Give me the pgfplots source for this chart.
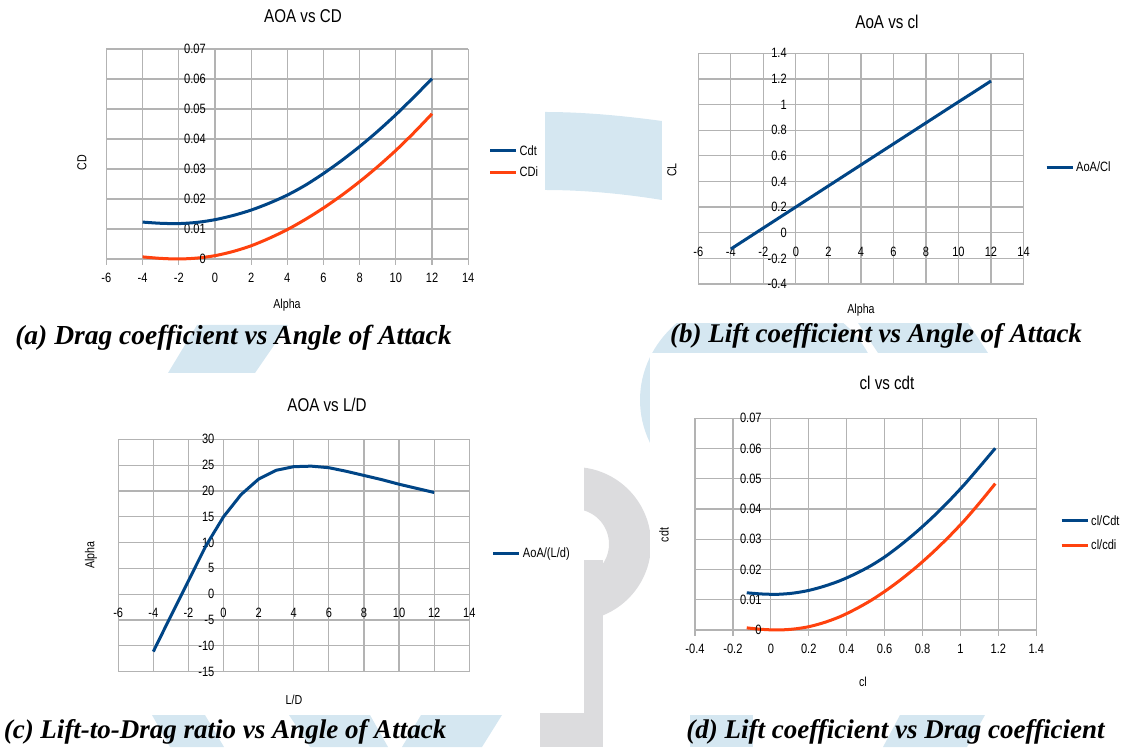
\documentclass[border=0pt]{standalone}
\usepackage{graphicx}
\usepackage{pgfplots}
\pgfplotsset{compat=1.18}
\usepackage{pgfplotstable}
\usepackage{fontspec}
\setmainfont{Liberation Sans}
\newfontfamily\capfont{Liberation Serif}
\definecolor{lblue}{HTML}{004586}
\definecolor{lorange}{HTML}{FF420E}
\definecolor{lgrid}{HTML}{B3B3B3}
\definecolor{wblue}{HTML}{D5E7F1}
\definecolor{wgray}{HTML}{DCDCDE}
\newcommand\sq[1]{\scalebox{0.82}[1]{#1}}

\pgfplotstableread{
a   cdt    cdi    cl     ld
-4  0.0123 0.0007 -0.127 -11.1
-3  0.0119 0.0002 -0.045 -4.2
-2  0.0118 0.0000 0.037  2.6
-1  0.0122 0.0003 0.119  9.4
0   0.0131 0.0011 0.201  15.0
1   0.0145 0.0025 0.283  19.3
2   0.0163 0.0044 0.365  22.3
3   0.0186 0.0069 0.447  24.0
4   0.0213 0.0098 0.529  24.7
5   0.0246 0.0132 0.611  24.8
6   0.0285 0.0170 0.693  24.5
7   0.0328 0.0212 0.775  23.8
8   0.0375 0.0258 0.857  23.0
9   0.0426 0.0308 0.939  22.2
10  0.0481 0.0362 1.021  21.3
11  0.0540 0.0421 1.102  20.5
12  0.0601 0.0484 1.184  19.7
}\aerodata

\tikzset{zx/.style={anchor=north, yshift=-14pt, inner sep=0pt, font=\fontsize{13.5}{15}\selectfont},
         zy/.style={anchor=east, xshift=-9pt, inner sep=0pt, font=\fontsize{13.5}{15}\selectfont}}

\pgfplotsset{
  lo/.style={
    scale only axis,
    axis lines=middle,
    axis line style={draw=lgrid, line width=1.2pt, -},
    grid=major,
    major grid style={draw=lgrid, line width=1.2pt},
    every tick/.style={draw=lgrid, line width=1.2pt},
    tick align=outside,
    major tick length=6pt,
    scaled ticks=false,
    tick label style={font=\fontsize{13.5}{15}\selectfont, inner sep=0pt},
    xticklabel style={anchor=north, yshift=-8pt},
    yticklabel style={anchor=east, xshift=-3pt},
    legend style={draw=none, fill=none, anchor=west, inner sep=0pt,
      font=\fontsize{13.5}{15}\selectfont},
    legend cell align=left,
    legend image code/.code={\draw[#1, line width=3pt] (0pt,0pt) -- (26pt,0pt);},
    clip=false,
  },
  alphax/.style={xtick={-6,-4,-2,0,2,4,6,8,10,12,14},
    xticklabels={\sq{-6},\sq{-4},\sq{-2},\sq{0},\sq{2},\sq{4},\sq{6},\sq{8},\sq{10},\sq{12},\sq{14}}},
  cdy/.style={ytick={0,0.01,0.02,0.03,0.04,0.05,0.06,0.07},
    yticklabels={\sq{0},\sq{0.01},\sq{0.02},\sq{0.03},\sq{0.04},\sq{0.05},\sq{0.06},\sq{0.07}}},
}

\begin{document}
\begin{tikzpicture}
\useasboundingbox (0,0) rectangle (1126pt,747pt);
\begin{scope}[x=1pt,y=-1pt,yshift=747pt]
  % watermark
  \fill[wblue] (545,112) .. controls (585,112) and (625,116) .. (662,121) -- (662,200) .. controls (625,194) and (585,190) .. (545,190) -- cycle;
  \fill[wblue] (197,325) -- (288,325) -- (255,373) -- (168,373) -- cycle;
  \fill[wblue] (760,400) ellipse [x radius=120, y radius=107];
  \fill[wblue] (858,323) -- (968,323) -- (988,353) -- (878,353) -- cycle;
  \fill[wblue] (152,715) -- (205,715) -- (224,747) -- (170,747) -- cycle;
  \fill[wblue] (289,715) -- (370,715) -- (388,747) -- (310,747) -- cycle;
  \fill[wblue] (421,715) -- (502,715) -- (482,747) -- (402,747) -- cycle;
  \fill[wblue] (690,715) rectangle (753,747);
  \fill[wblue] (900,715) -- (985,715) -- (967,747) -- (883,747) -- cycle;
  \fill[wgray, even odd rule] (574,544) circle (77) (574,544) circle (35);
  \fill[wgray] (584,560) rectangle (603,747);
  \fill[wgray] (540,713) rectangle (603,747);
  % chart images (white)
  \fill[white] (0,0) rectangle (545,323);
  \fill[white] (662,0) rectangle (1126,323);
  \fill[white] (0,373) rectangle (584,713);
  \fill[white] (650,353) rectangle (1126,713);
\end{scope}

% (a)
\begin{axis}[lo, at={(106.4pt,698pt)}, anchor=north west, width=361.8pt, height=210pt,
  xmin=-6, xmax=14, ymin=0, ymax=0.07, alphax, cdy,
  legend style={at={(axis description cs:1.056,0.464)}, row sep=6pt}]
\addplot[lblue, line width=3pt, smooth] table[x=a, y=cdt]{\aerodata};
\addlegendentry{\sq{Cdt}}
\addplot[lorange, line width=3pt, smooth] table[x=a, y=cdi]{\aerodata};
\addlegendentry{\sq{CDi}}
\node[zx] at (axis cs:0,0) {\sq{0}};
\node[zy] at (axis cs:0,0) {\sq{0}};
\end{axis}

% (b)
\begin{axis}[lo, at={(698.3pt,693.7pt)}, anchor=north west, width=325.2pt, height=230.7pt,
  xmin=-6, xmax=14, ymin=-0.4, ymax=1.4, alphax,
  ytick={-0.4,-0.2,0,0.2,0.4,0.6,0.8,1,1.2,1.4},
  yticklabels={\sq{-0.4},\sq{-0.2},\sq{0},\sq{0.2},\sq{0.4},\sq{0.6},\sq{0.8},\sq{1},\sq{1.2},\sq{1.4}},
  legend style={at={(axis description cs:1.066,0.507)}}]
\addplot[lblue, line width=3pt] table[x=a, y=cl]{\aerodata};
\addlegendentry{\sq{AoA/Cl}}
\node[zx] at (axis cs:0,0) {\sq{0}};
\node[zy] at (axis cs:0,0) {\sq{0}};
\end{axis}

% (c)
\begin{axis}[lo, at={(118.2pt,307.7pt)}, anchor=north west, width=351.1pt, height=232.4pt,
  xmin=-6, xmax=14, ymin=-15, ymax=30, alphax,
  ytick={-15,-10,-5,0,5,10,15,20,25,30},
  yticklabels={\sq{-15},\sq{-10},\sq{-5},\sq{0},\sq{5},\sq{10},\sq{15},\sq{20},\sq{25},\sq{30}},
  legend style={at={(axis description cs:1.064,0.5095)}}]
\addplot[lblue, line width=3pt] table[x=a, y=ld]{\aerodata};
\addlegendentry{\sq{AoA/(L/d)}}
\node[zx] at (axis cs:0,0) {\sq{0}};
\node[zy] at (axis cs:0,0) {\sq{0}};
\end{axis}

% (d)
\begin{axis}[lo, at={(695pt,328.7pt)}, anchor=north west, width=341.2pt, height=211.7pt,
  xmin=-0.4, xmax=1.4, ymin=0, ymax=0.07, cdy,
  xtick={-0.4,-0.2,0,0.2,0.4,0.6,0.8,1,1.2,1.4},
  xticklabels={\sq{-0.4},\sq{-0.2},\sq{0},\sq{0.2},\sq{0.4},\sq{0.6},\sq{0.8},\sq{1},\sq{1.2},\sq{1.4}},
  legend style={at={(axis description cs:1.0698,0.458)}, row sep=9pt}]
\addplot[lblue, line width=3pt, smooth] table[x=cl, y=cdt]{\aerodata};
\addlegendentry{\sq{cl/Cdt}}
\addplot[lorange, line width=3pt, smooth] table[x=cl, y=cdi]{\aerodata};
\addlegendentry{\sq{cl/cdi}}
\node[zx] at (axis cs:0,0) {\sq{0}};
\node[zy] at (axis cs:0,0) {\sq{0}};
\end{axis}

\begin{scope}[x=1pt,y=-1pt,yshift=747pt]
  \tikzset{ttl/.style={font=\fontsize{18.5}{20}\selectfont, inner sep=0pt},
           lbl/.style={font=\fontsize{13}{15}\selectfont, inner sep=0pt},
           capt/.style={font=\capfont\bfseries\itshape\fontsize{27}{30}\selectfont, inner sep=0pt, anchor=base}}
  \node[ttl] at (303,16) {\sq{AOA vs CD}};
  \node[ttl] at (887,22) {\sq{AoA vs cl}};
  \node[ttl] at (327,405) {\sq{AOA vs L/D}};
  \node[ttl] at (887,383) {\sq{cl vs cdt}};
  \node[lbl] at (287,305) {\sq{Alpha}};
  \node[lbl] at (861,310) {\sq{Alpha}};
  \node[lbl] at (294,700) {\sq{L/D}};
  \node[lbl] at (863,682) {\sq{cl}};
  \node[lbl, rotate=90] at (82,163) {\sq{CD}};
  \node[lbl, rotate=90] at (672,170) {\sq{CL}};
  \node[lbl, rotate=90] at (91,555) {\sq{Alpha}};
  \node[lbl, rotate=90] at (664,535) {\sq{cdt}};
  \node[capt, font=\capfont\bfseries\itshape\fontsize{27.5}{30}\selectfont] at (233.5,345) {(a) Drag coefficient vs Angle of Attack};
  \node[capt] at (876,343) {(b) Lift coefficient vs Angle of Attack};
  \node[capt] at (225,738) {(c) Lift-to-Drag ratio vs Angle of Attack};
  \node[capt] at (895.5,738) {(d) Lift coefficient vs Drag coefficient};
\end{scope}
\end{tikzpicture}
\end{document}
